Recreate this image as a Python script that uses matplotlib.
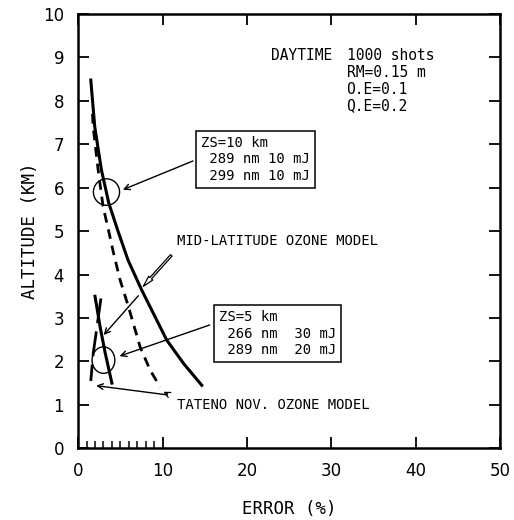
import numpy as np
import matplotlib.pyplot as plt
from matplotlib.patches import Ellipse

# ZS=10 km, mid-latitude ozone model
mid_err = [1.5, 1.97, 2.76, 3.64, 4.76, 5.92, 7.54, 8.93, 10.5, 12.5, 14.65]
mid_alt = [8.48, 7.40, 6.41, 5.64, 4.98, 4.33, 3.64, 3.10, 2.49, 1.95, 1.45]
mid_dash_err = [1.7, 1.78, 2.37, 2.96, 3.6, 4.2, 4.98, 5.96, 7.35, 8.53, 9.72]
mid_dash_alt = [7.7, 7.40, 6.41, 5.56, 5.02, 4.49, 3.87, 3.26, 2.33, 1.80, 1.41]

# ZS=5 km, Tateno Nov. ozone model
tat_err = [2.0, 2.6, 3.2, 4.0]
tat_alt = [3.5, 2.8, 2.2, 1.5]
tat_dash_err = [2.7, 2.2, 1.8, 1.5]
tat_dash_alt = [3.45, 2.75, 2.2, 1.55]

header = ["1000 shots", "RM=0.15 m", "O.E=0.1", "Q.E=0.2"]

mono = "DejaVu Sans Mono"

fig = plt.figure(figsize=(5.14, 5.20), dpi=100)
ax = fig.add_axes([0.152, 0.138, 0.821, 0.835])

ax.plot(mid_err, mid_alt, color="black", lw=2.2, solid_joinstyle="round")
ax.plot(mid_dash_err, mid_dash_alt, color="black", lw=2.0, ls=(0, (3.5, 2.5)))
ax.plot(tat_err, tat_alt, color="black", lw=2.2)
ax.plot(tat_dash_err, tat_dash_alt, color="black", lw=2.0, ls=(0, (9, 3)))

ax.set_xlim(0, 50)
ax.set_ylim(0, 10)
ax.set_xticks(np.arange(0, 51, 10))
ax.set_yticks(np.arange(0, 11, 1))
ax.set_xticks(np.arange(1, 10, 1), minor=True)
ax.tick_params(which="major", direction="in", length=8, width=1.3,
               top=True, right=True, labelsize=12, pad=10)
ax.tick_params(which="minor", direction="in", length=5, width=1.1,
               top=False, right=False)
for s in ax.spines.values():
    s.set_linewidth(1.8)

ax.set_xlabel("ERROR (%)", family=mono, fontsize=12.5, labelpad=14)
ax.set_ylabel("ALTITUDE (KM)", family=mono, fontsize=12.5, labelpad=3)

# header block
ax.text(22.8, 9.05, "DAYTIME", family=mono, fontsize=10.5, va="center")
for i, line in enumerate(header):
    ax.text(31.8, 9.05 - i * 0.39, line, family=mono, fontsize=10.5, va="center")

box = dict(boxstyle="square,pad=0.35", fc="white", ec="black", lw=1.1)

# ZS=10 km
ax.text(14.6, 6.65, "ZS=10 km\n 289 nm 10 mJ\n 299 nm 10 mJ", family=mono,
        fontsize=10, va="center", ha="left", bbox=box, linespacing=1.25)
ax.add_patch(Ellipse((3.36, 5.9), 3.1, 0.61, fill=False, ec="black", lw=1.0))
ax.annotate("", xy=(5.0, 5.93), xytext=(13.9, 6.64),
            arrowprops=dict(arrowstyle="->", color="black", lw=1.0))

# mid-latitude label
ax.text(11.7, 4.78, "MID-LATITUDE OZONE MODEL", family=mono, fontsize=10, va="center")
ax.annotate("", xy=(7.5, 3.68), xytext=(11.26, 4.49),
            arrowprops=dict(arrowstyle="simple,head_width=0.4,head_length=0.8,tail_width=0.15",
                            fc="white", ec="black", lw=0.9))
ax.annotate("", xy=(2.81, 2.56), xytext=(7.35, 3.56),
            arrowprops=dict(arrowstyle="->", color="black", lw=1.0))

# ZS=5 km
ax.text(16.7, 2.64, "ZS=5 km\n 266 nm  30 mJ\n 289 nm  20 mJ", family=mono,
        fontsize=10, va="center", ha="left", bbox=box, linespacing=1.25)
ax.add_patch(Ellipse((3.0, 2.03), 2.7, 0.61, fill=False, ec="black", lw=1.0))
ax.annotate("", xy=(4.6, 2.1), xytext=(15.9, 2.86),
            arrowprops=dict(arrowstyle="->", color="black", lw=1.0))

# Tateno label
ax.text(11.7, 0.99, "TATENO NOV. OZONE MODEL", family=mono, fontsize=10, va="center")
ax.annotate("", xy=(1.8, 1.45), xytext=(10.9, 1.22),
            arrowprops=dict(arrowstyle="->", color="black", lw=1.0))
ax.annotate("", xy=(9.8, 1.33), xytext=(10.9, 1.22),
            arrowprops=dict(arrowstyle="->", color="black", lw=0.9))

fig.savefig("out.png", dpi=100)
